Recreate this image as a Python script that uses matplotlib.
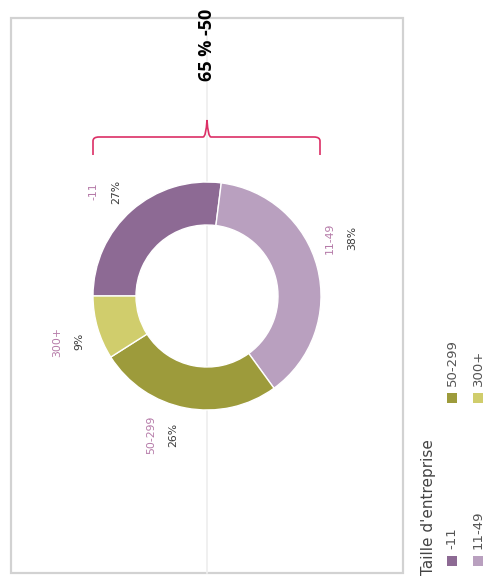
import numpy as np
import matplotlib
matplotlib.use("Agg")
import matplotlib.pyplot as plt
from matplotlib.patches import Rectangle
from matplotlib.path import Path
from matplotlib.patches import PathPatch

# ---- data ----
categories = ["-11", "11-49", "50-299", "300+"]
shares = [27, 38, 26, 9]
pct_labels = ["27%", "38%", "26%", "9%"]
colors = ["#8d6a94", "#b9a0bf", "#9d9b3b", "#d0cd6c"]
legend_title = "Taille d'entreprise"
annotation = "65 % -50"

# label placement nudges (degrees along the ring)
label_nudge = [3, 9, -7, 2]

W, H = 486, 581
def Y(y):
    return H - y

fig = plt.figure(figsize=(W / 100, H / 100), dpi=100)
ax = fig.add_axes([0, 0, 1, 1])

cx, cy = 207, Y(296)
R = 114
wedges, _ = ax.pie(shares, colors=colors, startangle=180, counterclock=False,
                   radius=R, center=(cx, cy),
                   wedgeprops=dict(width=43, edgecolor="white", linewidth=1.0))
ax.set_xlim(0, W)
ax.set_ylim(0, H)
ax.set_aspect("equal")
ax.axis("off")

# frame and faint centre line
ax.add_patch(Rectangle((11, Y(573)), 403 - 11, 573 - 18, fill=False,
                       edgecolor="#d2d2d2", linewidth=1.6, zorder=0))
ax.plot([cx, cx], [Y(573), Y(18)], color="#eeeeee", linewidth=1.2, zorder=0)

# slice labels (rotated 90)
name_color = "#b57aa8"
pct_color = "#3a3a3a"
lab_r = 146
for w, name, pct, nd in zip(wedges, categories, pct_labels, label_nudge):
    th = np.deg2rad((w.theta1 + w.theta2) / 2 + nd)
    x = cx + lab_r * np.cos(th)
    y = cy + lab_r * np.sin(th)
    ax.text(x - 11, y, name, rotation=90, ha="center", va="center",
            fontsize=7.8, color=name_color, family="DejaVu Sans")
    ax.text(x + 11, y, pct, rotation=90, ha="center", va="center",
            fontsize=7.8, color=pct_color, family="DejaVu Sans")

# curly bracket
bc = "#dc2f66"
x0, x1, yb, yh, yt = 93, 320, 155, 137, 120
verts = [(x0, Y(yb)), (x0, Y(yh + 4)), (x0, Y(yh)), (x0 + 6, Y(yh)),
         (cx - 4, Y(yh)), (cx - 1, Y(yh)), (cx, Y(yt)),
         (cx + 1, Y(yh)), (cx + 4, Y(yh)),
         (x1 - 6, Y(yh)), (x1, Y(yh)), (x1, Y(yh + 4)), (x1, Y(yb))]
codes = [Path.MOVETO, Path.LINETO, Path.CURVE3, Path.CURVE3,
         Path.LINETO, Path.CURVE3, Path.CURVE3,
         Path.CURVE3, Path.CURVE3,
         Path.LINETO, Path.CURVE3, Path.CURVE3, Path.LINETO]
ax.add_patch(PathPatch(Path(verts, codes), fill=False, edgecolor=bc, linewidth=1.2))

ax.text(cx, Y(45), annotation, rotation=90, ha="center", va="center",
        fontsize=13, fontweight="bold", color="black", family="Open Sans")

# legend (rotated)
ax.text(428, Y(575), legend_title, rotation=90, ha="center", va="bottom",
        fontsize=11, color="#444444", family="DejaVu Sans")
leg_pos = [(452, 561), (478, 561), (452, 398), (478, 398)]
for (lx, ly), name, col in zip(leg_pos, categories, colors):
    ax.add_patch(Rectangle((lx - 5, Y(ly) - 5), 10, 10, facecolor=col, edgecolor="none"))
    ax.text(lx, Y(ly - 12), name, rotation=90, ha="center", va="bottom",
            fontsize=9.5, color="#555555", family="DejaVu Sans")

fig.savefig("out.png", dpi=100)
